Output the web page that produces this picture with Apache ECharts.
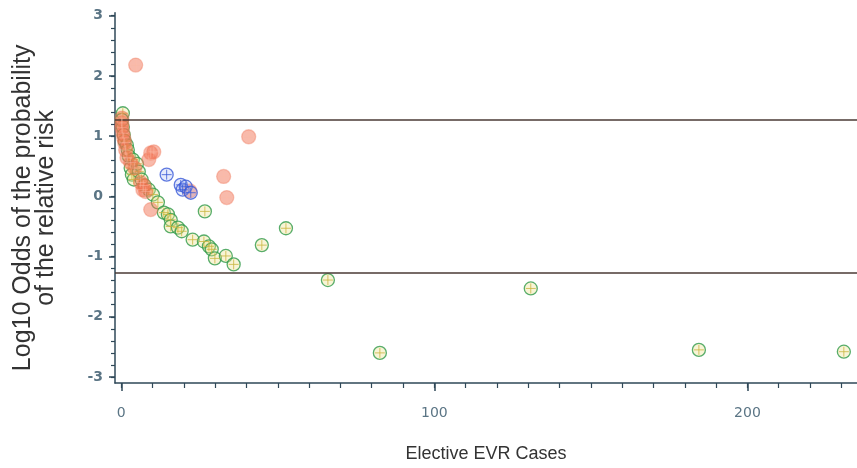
<!DOCTYPE html>
<html>
<head>
<meta charset="utf-8">
<script src="https://cdn.jsdelivr.net/npm/echarts@6/dist/echarts.min.js"></script>
<style>html,body{margin:0;padding:0;background:#fff;}#c{width:857px;height:468px;}</style>
</head>
<body>
<div id="c"></div>
<script>
// Data
var greenPoints = [
  [0.5,1.38],[0.2,1.27],[0.5,1.15],[0.8,1.02],[1.1,0.92],[1.8,0.85],[2.1,0.77],[2.4,0.67],
  [3.7,0.61],[3.0,0.47],[5.0,0.54],[3.4,0.36],[4.0,0.28],[5.6,0.41],[6.5,0.28],[7.5,0.18],
  [8.8,0.11],[10.1,0.03],[11.7,-0.10],[13.6,-0.27],[14.9,-0.30],[15.8,-0.39],[15.8,-0.50],
  [18.1,-0.52],[19.3,-0.58],[22.8,-0.72],[26.4,-0.75],[28.0,-0.83],[28.9,-0.88],[29.9,-1.03],
  [33.4,-0.99],[35.9,-1.13],[26.7,-0.25],[44.9,-0.81],[52.6,-0.53],[66.0,-1.39],[82.6,-2.60],
  [130.8,-1.53],[184.5,-2.55],[230.8,-2.58]
];
var orangePoints = [
  [4.6,2.18],[0.2,1.30],[0.2,1.22],[0.2,1.14],[0.5,1.05],[0.8,0.97],[1.1,0.89],[1.4,0.77],
  [1.8,0.64],[3.0,0.56],[4.3,0.47],[8.8,0.61],[9.4,0.72],[10.4,0.74],[40.7,0.99],[6.2,0.23],
  [7.2,0.18],[7.8,0.08],[6.9,0.11],[9.4,-0.22],[32.7,0.33],[33.7,-0.02],[21.9,0.09]
];
var bluePoints = [
  [14.5,0.36],[19.0,0.19],[19.6,0.11],[20.6,0.16],[22.2,0.06]
];
var refLines = [1.27, -1.27];
var yTickLabels = [-3,-2,-1,0,1,2,3];
var yMinorTicks = [];
for (var v = -30; v <= 30; v += 2) yMinorTicks.push(v / 10);
var xTickLabels = [0,100,200];
var xMinorTicks = [];
for (var t = 0; t <= 230; t += 10) xMinorTicks.push(t);

var axisColor = '#2f4858';
var labelColor = '#5b7585';
var crossPath = 'path://M0,-10 L0,10 M-10,0 L10,0';

function ring(data, border, fill, size, z) {
  return {type:'scatter', data:data, symbol:'circle', symbolSize:size, z:z,
    itemStyle:{color:fill, borderColor:border, borderWidth:1.3}, silent:true};
}
function cross(data, stroke, size, z) {
  return {type:'scatter', data:data, symbol:crossPath, symbolSize:size, z:z,
    itemStyle:{color:'none', borderColor:stroke, borderWidth:1}, silent:true};
}

var chart = echarts.init(document.getElementById('c'));
chart.setOption({
  animation:false,
  grid:{left:115, right:0, top:12.7, bottom:468-384.5, containLabel:false},
  xAxis:[{
    type:'value', min:-2, max:235, position:'bottom',
    splitLine:{show:false},
    axisLine:{onZero:false, lineStyle:{color:axisColor, width:1.5}},
    axisTick:{customValues:xTickLabels, length:8, lineStyle:{color:axisColor, width:1.5}},
    axisLabel:{customValues:xTickLabels, color:labelColor, fontSize:14, margin:23, fontFamily:'DejaVu Sans'},
    name:'Elective EVR Cases', nameLocation:'middle', nameGap:62,
    nameTextStyle:{fontSize:18, color:'#333', fontFamily:'Liberation Sans'}
  },{
    type:'value', min:-2, max:235, position:'bottom', offset:0,
    splitLine:{show:false},
    axisLine:{show:false, onZero:false},
    axisTick:{customValues:xMinorTicks, length:5, lineStyle:{color:axisColor, width:1.2}},
    axisLabel:{show:false}
  }],
  yAxis:[{
    type:'value', min:-3.1, max:3.05, position:'left',
    splitLine:{show:false},
    axisLine:{show:true, onZero:false, lineStyle:{color:axisColor, width:1.5}},
    axisTick:{show:true, customValues:yTickLabels, length:6, lineStyle:{color:axisColor, width:1.5}},
    axisLabel:{customValues:yTickLabels, color:labelColor, fontSize:14, fontWeight:'bold', margin:12, fontFamily:'DejaVu Sans'},
    name:'Log10 Odds of the probability\nof the relative risk', nameLocation:'middle', nameGap:57,
    nameTextStyle:{fontSize:25, color:'#333', lineHeight:23, fontFamily:'Liberation Sans', padding:[0,20,0,0]}
  },{
    type:'value', min:-3.1, max:3.05, position:'left', offset:0,
    splitLine:{show:false},
    axisLine:{show:false, onZero:false},
    axisTick:{show:true, customValues:yMinorTicks, length:4, lineStyle:{color:axisColor, width:1.2}},
    axisLabel:{show:false}
  }],
  series:[
    {type:'scatter', data:[], silent:true,
     markLine:{silent:true, symbol:'none', label:{show:false},
       lineStyle:{color:'#4a3a34', width:1.5, type:'solid'},
       data:refLines.map(function(y){return {yAxis:y};})}},
    ring(greenPoints, '#2f9a48', 'rgba(235,225,140,0.45)', 13, 2),
    cross(greenPoints, '#c9b640', 10, 3),
    ring(orangePoints, 'rgba(240,120,90,0.5)', 'rgba(240,110,80,0.6)', 14, 4),
    cross(orangePoints, 'rgba(250,185,165,0.6)', 10, 5),
    ring(bluePoints, '#3a5ad8', 'rgba(150,170,240,0.3)', 13, 6),
    cross(bluePoints, '#3a5ad8', 10, 7)
  ]
});
</script>
</body>
</html>
